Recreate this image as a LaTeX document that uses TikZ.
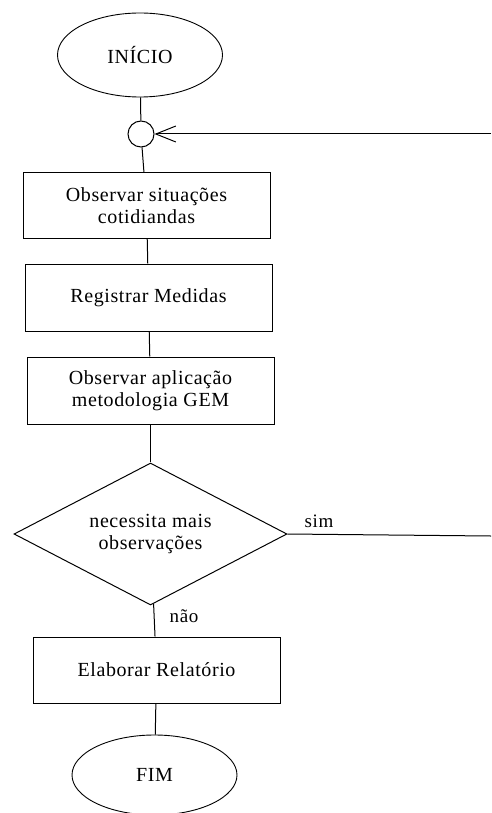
\documentclass[tikz,border=0pt]{standalone}
\usepackage{fontspec}
\setmainfont{Liberation Serif}[LetterSpace=3]
\usetikzlibrary{shapes.geometric,arrows.meta}
\begin{document}
\begin{tikzpicture}[x=1pt,y=-1pt,
  every node/.style={font=\fontsize{20}{22}\selectfont, inner sep=0pt},
  line/.style={draw=black, line width=1pt},
  term/.style={ellipse, draw, line width=0.9pt},
  procbox/.style={rectangle, draw, line width=1pt, minimum width=247pt, align=center},
  decision/.style={diamond, draw, line width=1pt, aspect=1.9, minimum width=273pt, minimum height=142pt, align=center},
  joint/.style={circle, draw, line width=1pt, minimum size=26pt},
  lbl/.style={font=\fontsize{19}{22}\selectfont}
]
\useasboundingbox (0,0) rectangle (491,813);
\node[term, minimum width=165pt, minimum height=84pt] (inicio) at (140,55) {INÍCIO};
\node[joint] (jc) at (141,134) {};
\node[procbox, minimum height=65pt] (b1) at (146.5,205.5) {Observar situações\\cotidiandas};
\node[procbox, minimum height=67pt] (b2) at (148.5,297.5) {Registrar Medidas};
\node[procbox, minimum height=67pt] (b3) at (150.5,390.5) {Observar aplicação\\metodologia GEM};
\node[decision] (dec) at (150.5,534) {necessita mais\\observações};
\node[procbox, minimum height=66pt] (b4) at (156.5,670) {Elaborar Relatório};
\node[term, minimum width=165pt, minimum height=80pt] (fim) at (154.5,775) {FIM};
\node[lbl] (sim) at (319,521) {sim};
\node[lbl] (nao) at (184,616) {não};
\coordinate (r1) at (491,134);
\coordinate (r2) at (491,536);
\draw[line] (inicio) -- (jc);
\draw[line] (jc) -- (b1);
\draw[line] (b1) -- (b2);
\draw[line] (b2) -- (b3);
\draw[line] (b3) -- (dec);
\draw[line] (dec) -- (b4);
\draw[line] (b4) -- (fim);
\draw[line] (dec.east) -- (r2);
\draw[line, -{Straight Barb[length=20pt,width=16pt,line width=1pt]}] (r1) -- (jc.east);
\end{tikzpicture}
\end{document}
